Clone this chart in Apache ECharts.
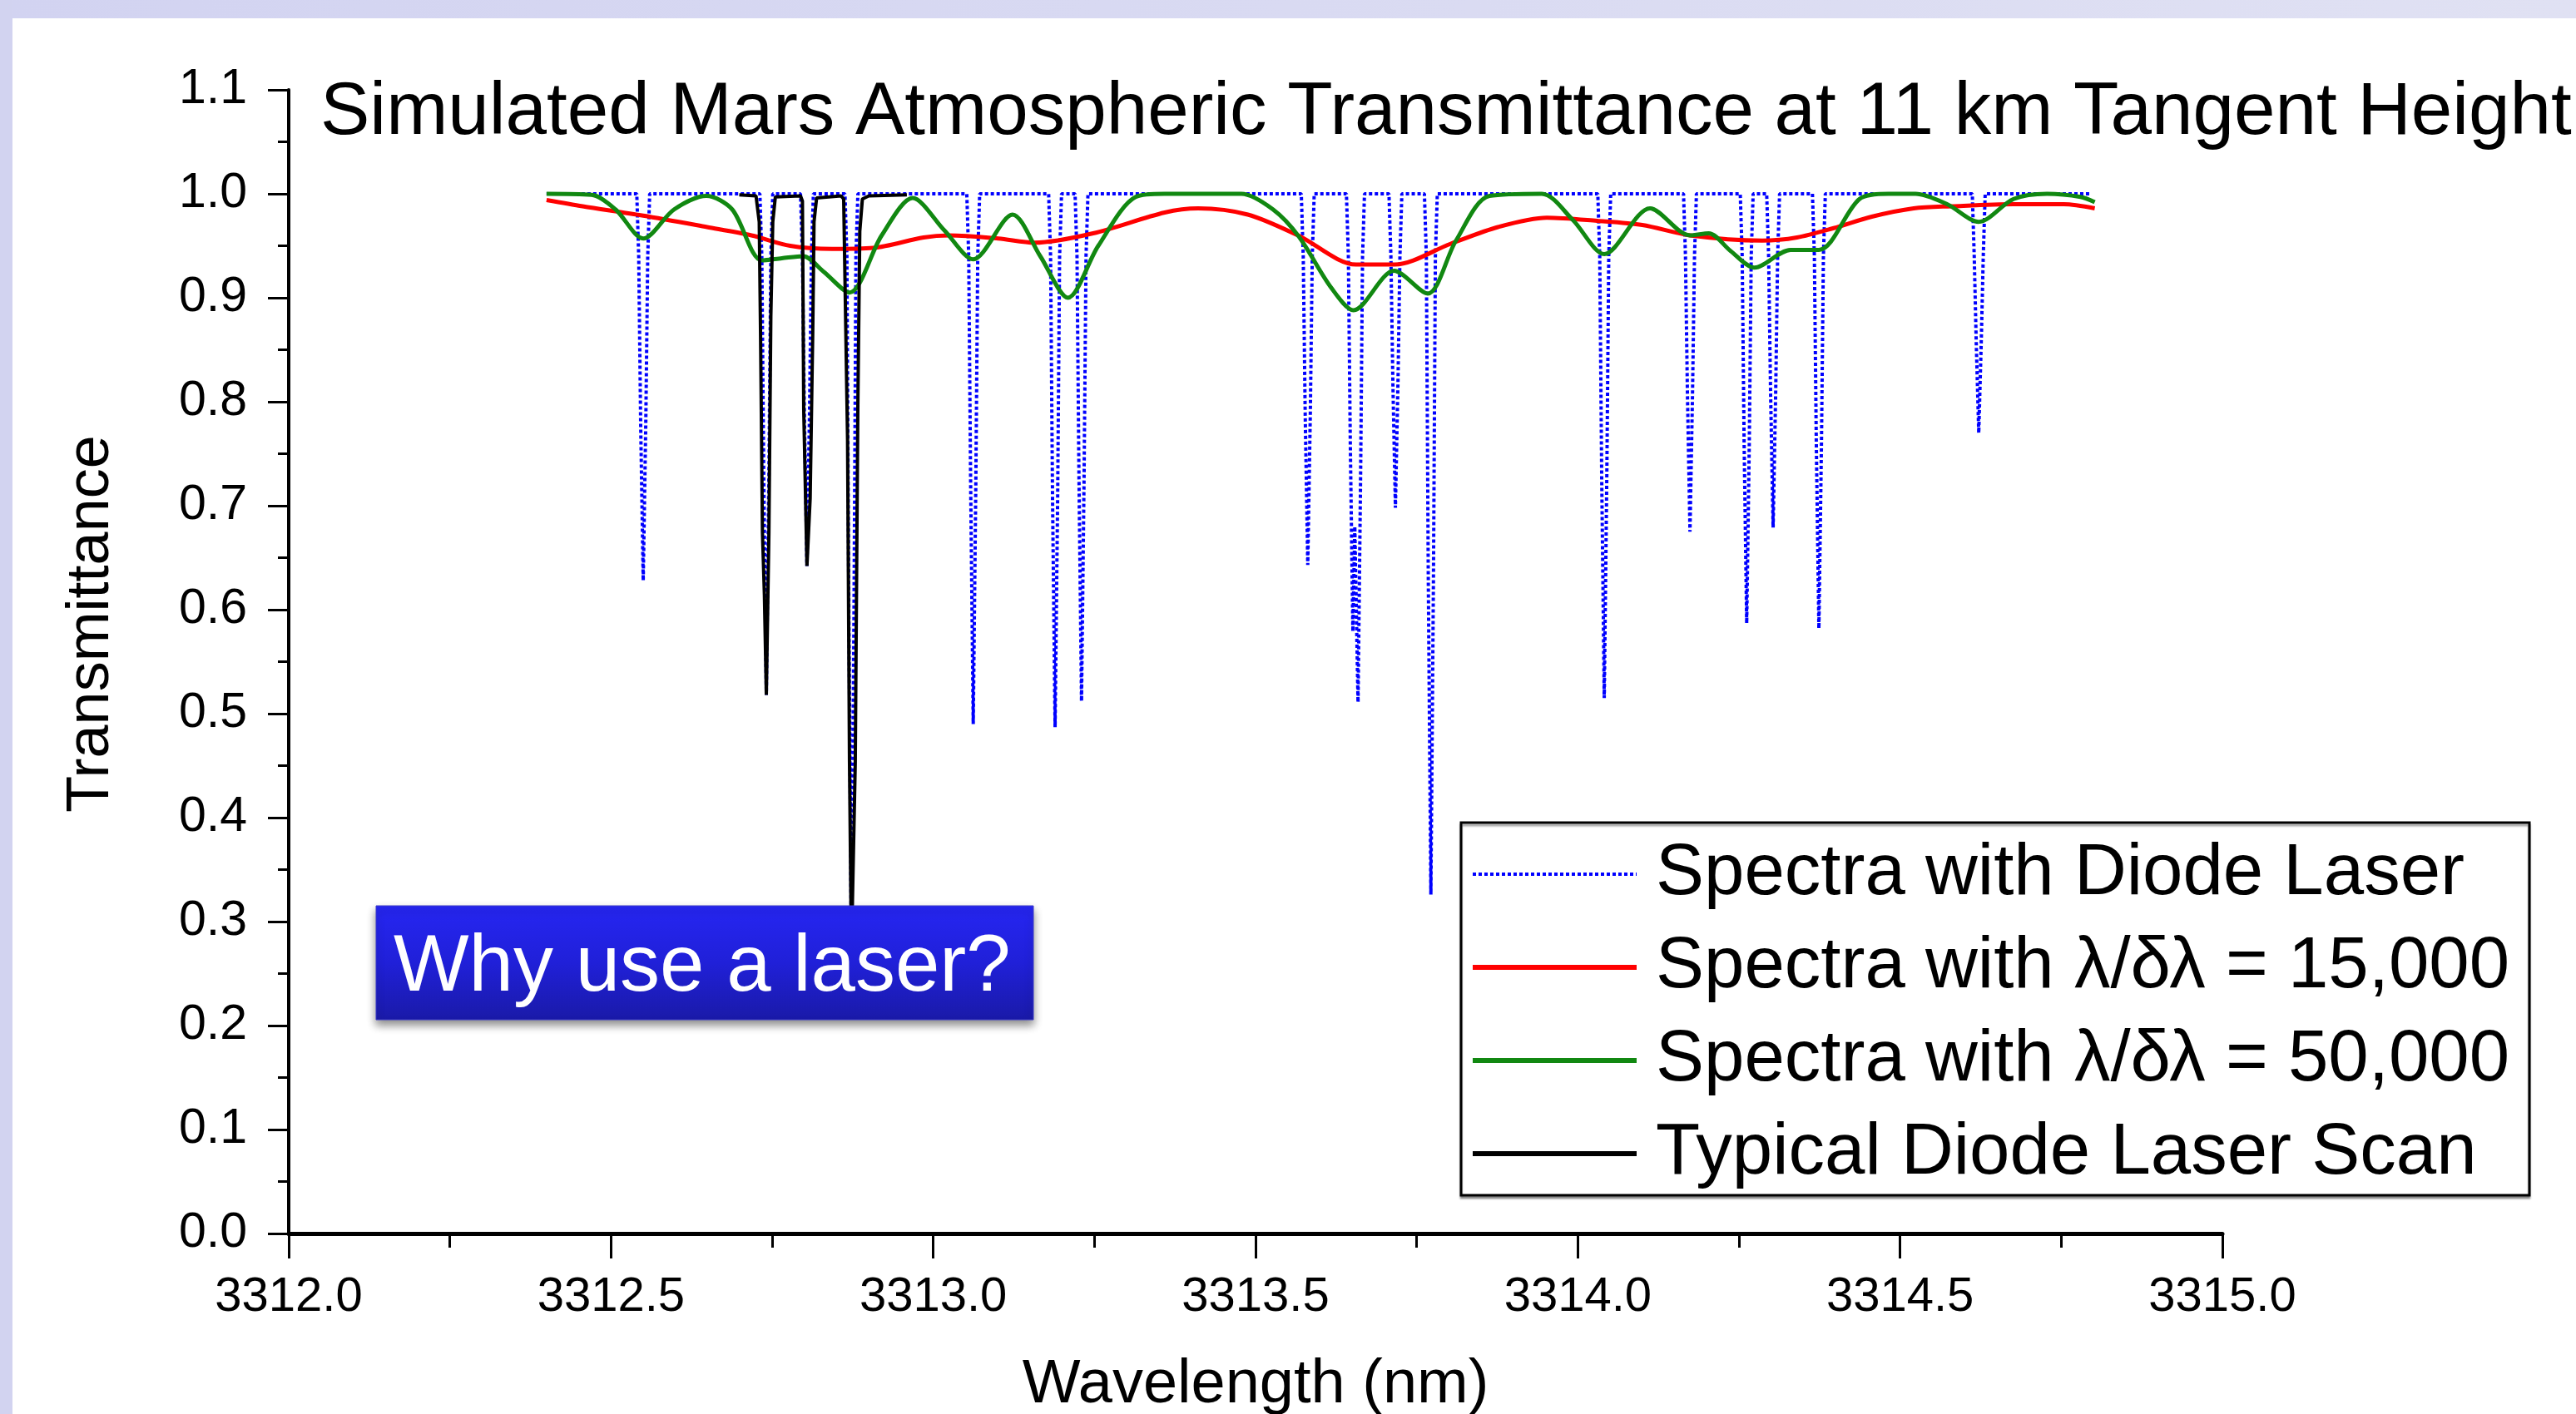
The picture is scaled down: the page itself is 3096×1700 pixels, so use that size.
<!DOCTYPE html>
<html>
<head>
<meta charset="utf-8">
<title>Simulated Mars Atmospheric Transmittance</title>
<script src="https://cdn.jsdelivr.net/npm/echarts@6/dist/echarts.min.js"></script>
<style>
  html, body { margin: 0; padding: 0; background: #fff; }
  #chart { width: 3096px; height: 1700px; }
</style>
</head>
<body>
<div id="chart"></div>
<script>
// wavelength (nm), transmittance
const diodeLaser = [
  [3312.400, 1.0], [3312.540, 1.0], [3312.543, 0.94], [3312.546, 0.78], [3312.550, 0.628], [3312.554, 0.78], [3312.557, 0.94], [3312.560, 1.0],
  [3312.731, 1.0], [3312.734, 0.94], [3312.737, 0.73], [3312.741, 0.518], [3312.745, 0.73], [3312.748, 0.94], [3312.751, 1.0],
  [3312.794, 1.0], [3312.797, 0.94], [3312.800, 0.79], [3312.804, 0.642], [3312.808, 0.79], [3312.811, 0.94], [3312.814, 1.0],
  [3312.863, 1.0], [3312.866, 0.94], [3312.869, 0.60], [3312.873, 0.27], [3312.877, 0.60], [3312.880, 0.94], [3312.883, 1.0],
  [3313.052, 1.0], [3313.055, 0.94], [3313.058, 0.72], [3313.062, 0.490], [3313.066, 0.72], [3313.069, 0.94], [3313.072, 1.0],
  [3313.179, 1.0], [3313.182, 0.94], [3313.185, 0.71], [3313.189, 0.487], [3313.193, 0.71], [3313.196, 0.94], [3313.199, 1.0],
  [3313.220, 1.0], [3313.223, 0.94], [3313.226, 0.73], [3313.230, 0.512], [3313.234, 0.73], [3313.237, 0.94], [3313.240, 1.0],
  [3313.571, 1.0], [3313.574, 0.94], [3313.577, 0.79], [3313.581, 0.643], [3313.585, 0.79], [3313.588, 0.94], [3313.591, 1.0],
  [3313.641, 1.0], [3313.644, 0.94], [3313.647, 0.76], [3313.651, 0.579], [3313.654, 0.68], [3313.656, 0.68], [3313.659, 0.511], [3313.663, 0.73], [3313.666, 0.94], [3313.669, 1.0],
  [3313.707, 1.0], [3313.710, 0.94], [3313.713, 0.82], [3313.717, 0.698], [3313.721, 0.82], [3313.724, 0.94], [3313.727, 1.0],
  [3313.762, 1.0], [3313.765, 0.94], [3313.768, 0.63], [3313.772, 0.326], [3313.776, 0.63], [3313.779, 0.94], [3313.782, 1.0],
  [3314.031, 1.0], [3314.034, 0.94], [3314.037, 0.73], [3314.041, 0.515], [3314.045, 0.73], [3314.048, 0.94], [3314.051, 1.0],
  [3314.164, 1.0], [3314.167, 0.94], [3314.170, 0.81], [3314.174, 0.675], [3314.178, 0.81], [3314.181, 0.94], [3314.184, 1.0],
  [3314.252, 1.0], [3314.255, 0.94], [3314.258, 0.76], [3314.262, 0.587], [3314.266, 0.76], [3314.269, 0.94], [3314.272, 1.0],
  [3314.293, 1.0], [3314.296, 0.94], [3314.299, 0.81], [3314.303, 0.679], [3314.307, 0.81], [3314.310, 0.94], [3314.313, 1.0],
  [3314.364, 1.0], [3314.367, 0.94], [3314.370, 0.76], [3314.374, 0.582], [3314.378, 0.76], [3314.381, 0.94], [3314.384, 1.0],
  [3314.612, 1.0], [3314.615, 0.94], [3314.618, 0.86], [3314.622, 0.770], [3314.626, 0.86], [3314.629, 0.94], [3314.632, 1.0],
  [3314.795, 1.0]
];

const resolving15k = [
  [3312.400, 0.994], [3312.456, 0.988], [3312.550, 0.979], [3312.649, 0.968], [3312.718, 0.960],
  [3312.778, 0.950], [3312.843, 0.947], [3312.907, 0.948], [3312.985, 0.958], [3313.025, 0.960],
  [3313.101, 0.957], [3313.157, 0.953], [3313.248, 0.962], [3313.359, 0.982], [3313.411, 0.986],
  [3313.488, 0.980], [3313.566, 0.960], [3313.656, 0.932], [3313.716, 0.932], [3313.803, 0.952],
  [3313.876, 0.968], [3313.952, 0.977], [3314.030, 0.974], [3314.100, 0.970], [3314.174, 0.960],
  [3314.286, 0.955], [3314.340, 0.958], [3314.397, 0.967], [3314.456, 0.978], [3314.521, 0.986],
  [3314.580, 0.988], [3314.676, 0.990], [3314.754, 0.990], [3314.802, 0.986]
];

const resolving50k = [
  [3312.400, 1.0], [3312.470, 0.999], [3312.507, 0.985], [3312.550, 0.957], [3312.598, 0.985],
  [3312.648, 0.998], [3312.688, 0.985], [3312.734, 0.936], [3312.765, 0.938], [3312.798, 0.940],
  [3312.830, 0.925], [3312.870, 0.905], [3312.920, 0.960], [3312.968, 0.996], [3313.017, 0.965],
  [3313.062, 0.937], [3313.123, 0.980], [3313.166, 0.940], [3313.209, 0.900], [3313.256, 0.950],
  [3313.314, 0.997], [3313.359, 1.0], [3313.478, 1.0], [3313.527, 0.985], [3313.567, 0.959],
  [3313.617, 0.910], [3313.652, 0.888], [3313.715, 0.926], [3313.767, 0.904], [3313.811, 0.955],
  [3313.863, 0.998], [3313.944, 1.0], [3313.992, 0.975], [3314.041, 0.942], [3314.112, 0.986],
  [3314.174, 0.960], [3314.203, 0.962], [3314.237, 0.945], [3314.274, 0.929], [3314.330, 0.946],
  [3314.374, 0.946], [3314.437, 0.995], [3314.482, 1.0], [3314.524, 1.0], [3314.573, 0.990],
  [3314.622, 0.973], [3314.676, 0.995], [3314.728, 1.0], [3314.780, 0.997], [3314.802, 0.992]
];

const laserScan = [
  [3312.699, 0.999], [3312.725, 0.998], [3312.730, 0.973], [3312.732, 0.866], [3312.735, 0.674],
  [3312.738, 0.614], [3312.741, 0.518], [3312.745, 0.674], [3312.748, 0.882], [3312.751, 0.973],
  [3312.755, 0.997], [3312.794, 0.998], [3312.797, 0.993], [3312.799, 0.793], [3312.804, 0.642],
  [3312.809, 0.707], [3312.813, 0.866], [3312.815, 0.973], [3312.819, 0.996], [3312.857, 0.998],
  [3312.861, 0.995], [3312.867, 0.764], [3312.870, 0.454], [3312.873, 0.27], [3312.879, 0.454],
  [3312.883, 0.797], [3312.886, 0.964], [3312.890, 0.995], [3312.900, 0.998], [3312.959, 0.999]
];

const seriesNames = [
  'Spectra with Diode Laser',
  'Spectra with \u03bb/\u03b4\u03bb = 15,000',
  'Spectra with \u03bb/\u03b4\u03bb = 50,000',
  'Typical Diode Laser Scan'
];

const font = "'Liberation Sans', Arial, sans-serif";

const chart = echarts.init(document.getElementById('chart'));

const option = {
  animation: false,
  backgroundColor: '#fff',
  title: {
    text: 'Simulated Mars Atmospheric Transmittance at 11 km Tangent Height',
    left: 385,
    top: 92,
    padding: 0,
    textStyle: { fontFamily: font, fontSize: 89, fontWeight: 'normal', color: '#000' }
  },
  grid: { left: 347, right: 425, top: 108, bottom: 217, containLabel: false, outerBoundsMode: 'none' },
  xAxis: {
    type: 'value',
    min: 3312,
    max: 3315,
    interval: 0.5,
    name: 'Wavelength (nm)',
    nameLocation: 'middle',
    nameGap: 146,
    nameTextStyle: { fontFamily: font, fontSize: 74, color: '#000' },
    axisLine: { onZero: false, lineStyle: { color: '#000', width: 5 } },
    axisTick: { length: 30, lineStyle: { width: 3, color: '#000' } },
    minorTick: { show: true, splitNumber: 2, length: 17, lineStyle: { width: 3, color: '#000' } },
    axisLabel: {
      margin: 48,
      fontFamily: font,
      fontSize: 58,
      color: '#000',
      formatter: v => v.toFixed(1)
    },
    splitLine: { show: false }
  },
  yAxis: {
    type: 'value',
    min: 0,
    max: 1.1,
    interval: 0.1,
    axisLine: { show: true, lineStyle: { color: '#000', width: 4 } },
    axisTick: { show: true, length: 25, lineStyle: { width: 3, color: '#000' } },
    minorTick: { show: true, splitNumber: 2, length: 13, lineStyle: { width: 3, color: '#000' } },
    axisLabel: {
      margin: 50,
      fontFamily: font,
      fontSize: 59,
      color: '#000',
      formatter: v => v.toFixed(1)
    },
    splitLine: { show: false }
  },
  legend: {
    orient: 'vertical',
    left: 1767,
    top: 1001,
    padding: 0,
    itemWidth: 197,
    itemHeight: 20,
    itemGap: 12,
    itemStyle: { opacity: 0 },
    lineStyle: { width: 6 },
    data: [
      { name: seriesNames[0], lineStyle: { width: 4, type: [4, 3] } },
      { name: seriesNames[1] },
      { name: seriesNames[2] },
      { name: seriesNames[3] }
    ],
    textStyle: { fontFamily: font, fontSize: 87, color: '#000', lineHeight: 100, padding: [0, 0, 0, 18] }
  },
  graphic: [
    {
      type: 'rect', z: 0, silent: true,
      shape: { x: 0, y: 0, width: 3096, height: 22 },
      style: {
        fill: new echarts.graphic.LinearGradient(0, 0, 1, 0, [
          { offset: 0, color: '#d2d3f1' }, { offset: 1, color: '#e0e1f3' }
        ])
      }
    },
    {
      type: 'rect', z: 0, silent: true,
      shape: { x: 0, y: 0, width: 15, height: 1700 },
      style: { fill: '#d2d3f0' }
    },
    {
      type: 'rect', z: 3, silent: true,
      shape: { x: 1756, y: 989, width: 1284, height: 448 },
      style: {
        fill: '#fff', stroke: '#000', lineWidth: 3,
        shadowColor: 'rgba(0,0,0,0.35)', shadowOffsetY: 3, shadowBlur: 2
      }
    },
    {
      type: 'text', z: 3, silent: true,
      x: 110, y: 750, rotation: Math.PI / 2,
      style: {
        text: 'Transmittance',
        font: '72px ' + font,
        fill: '#000',
        textAlign: 'center',
        textVerticalAlign: 'middle'
      }
    },
    {
      type: 'group', z: 100,
      children: [
        {
          type: 'rect', z: 100,
          shape: { x: 452, y: 1089, width: 790, height: 137 },
          style: {
            fill: new echarts.graphic.LinearGradient(0, 0, 0, 1, [
              { offset: 0, color: '#2626f2' },
              { offset: 0.5, color: '#2020d8' },
              { offset: 1, color: '#1a1aa8' }
            ]),
            stroke: '#3c3cc8', lineWidth: 1,
            shadowColor: 'rgba(0,0,0,0.45)', shadowBlur: 10, shadowOffsetY: 6
          }
        },
        {
          type: 'text', z: 101,
          x: 473, y: 1165,
          style: {
            text: 'Why use a laser?',
            font: '96px ' + font,
            fill: '#fff',
            textAlign: 'left',
            textVerticalAlign: 'middle'
          }
        }
      ]
    }
  ],
  series: [
    {
      name: seriesNames[0],
      type: 'line',
      data: diodeLaser,
      symbol: 'none',
      lineStyle: { color: '#0000ff', width: 4, type: [4, 3] },
      itemStyle: { color: '#0000ff' }
    },
    {
      name: seriesNames[1],
      type: 'line',
      data: resolving15k,
      symbol: 'none',
      smooth: 0.3,
      lineStyle: { color: '#ff0000', width: 5 },
      itemStyle: { color: '#ff0000' }
    },
    {
      name: seriesNames[2],
      type: 'line',
      data: resolving50k,
      symbol: 'none',
      smooth: 0.3,
      lineStyle: { color: '#118811', width: 5 },
      itemStyle: { color: '#118811' }
    },
    {
      name: seriesNames[3],
      type: 'line',
      data: laserScan,
      symbol: 'none',
      lineStyle: { color: '#000', width: 4 },
      itemStyle: { color: '#000' }
    }
  ]
};

chart.setOption(option);
</script>
</body>
</html>
